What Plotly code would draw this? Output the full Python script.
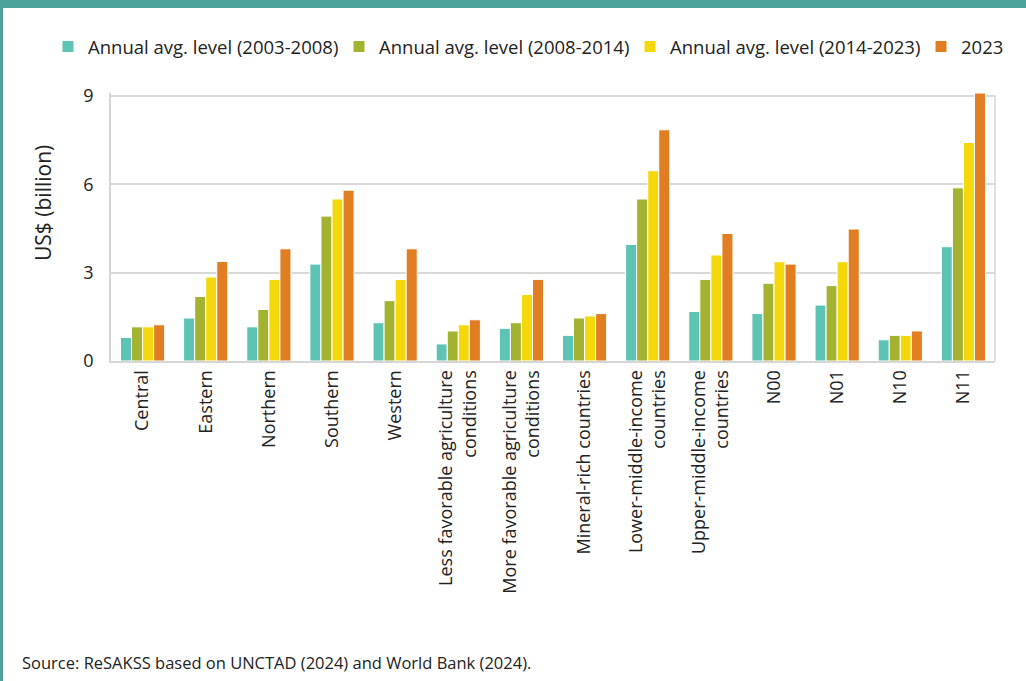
import plotly.graph_objects as go

categories = [
    "Central", "Eastern", "Northern", "Southern", "Western",
    "Less favorable agriculture<br>conditions",
    "More favorable agriculture<br>conditions",
    "Mineral-rich countries",
    "Lower-middle-income<br>countries",
    "Upper-middle-income<br>countries",
    "N00", "N01", "N10", "N11",
]
series_names = [
    "Annual avg. level (2003-2008)",
    "Annual avg. level (2008-2014)",
    "Annual avg. level (2014-2023)",
    "2023",
]
avg_2003_2008 = [0.80, 1.46, 1.16, 3.29, 1.30, 0.58, 1.11, 0.87, 3.96, 1.68, 1.61, 1.90, 0.72, 3.88]
avg_2008_2014 = [1.16, 2.19, 1.75, 4.92, 2.05, 1.02, 1.30, 1.46, 5.50, 2.77, 2.64, 2.56, 0.87, 5.88]
avg_2014_2023 = [1.16, 2.85, 2.77, 5.50, 2.77, 1.23, 2.26, 1.53, 6.46, 3.60, 3.37, 3.37, 0.87, 7.42]
val_2023 = [1.23, 3.38, 3.81, 5.80, 3.81, 1.40, 2.77, 1.61, 7.85, 4.33, 3.29, 4.48, 1.02, 9.10]
colors = ["#5CC3B5", "#A4B232", "#F4D80C", "#E07E21"]
legend_widths = [246, 246, 246, 45]
y_ticks = [0, 3, 6, 9]

fig = go.Figure()
for name, vals, c, lw in zip(series_names, [avg_2003_2008, avg_2008_2014, avg_2014_2023, val_2023],
                             colors, legend_widths):
    fig.add_trace(go.Bar(x=categories, y=vals, name=name, legendwidth=lw,
                         marker=dict(color=c, line=dict(color="white", width=1))))

L, R, T, B = 111, 31, 93, 320
W, H = 1026, 681
pw, ph = W - L - R, H - T - B

def px2x(px):
    return (px - L) / pw

def py2y(py):
    return (H - B - py) / ph

fig.update_layout(
    width=W, height=H,
    margin=dict(l=L, r=R, t=T, b=B, autoexpand=False),
    paper_bgcolor="white", plot_bgcolor="white",
    barmode="group", bargap=0.30, bargroupgap=0.0,
    font=dict(family="Open Sans", color="#222222"),
    legend=dict(orientation="h", x=px2x(48), y=py2y(47), xanchor="left", yanchor="middle",
                font=dict(family="Open Sans", size=18.5, color="#222"),
                itemwidth=30, traceorder="normal"),
    xaxis=dict(tickangle=-90, tickfont=dict(family="Open Sans", size=18, color="#222"),
               showline=True, linecolor="#D6D6D6", linewidth=2, ticks="", showgrid=False),
    yaxis=dict(range=[0, 9.1], tickvals=y_ticks, showgrid=True, gridcolor="#D9D9D9", gridwidth=1.5,
               zeroline=False, tickfont=dict(family="Open Sans", size=18, color="#222"),
               ticks="outside", ticklen=12, tickcolor="rgba(0,0,0,0)",
               showline=True, linecolor="#D6D6D6", linewidth=1.5),
    shapes=[
        dict(type="line", xref="paper", yref="paper", x0=1, x1=1, y0=0, y1=py2y(95.5),
             line=dict(color="#D6D6D6", width=1.5)),
        dict(type="rect", xref="paper", yref="paper", x0=px2x(0), x1=px2x(W), y0=py2y(8), y1=py2y(0),
             fillcolor="#4BA39C", line=dict(width=0), layer="above"),
        dict(type="rect", xref="paper", yref="paper", x0=px2x(0), x1=px2x(3), y0=py2y(H), y1=py2y(0),
             fillcolor="#4BA39C", line=dict(width=0), layer="above"),
    ],
    annotations=[
        dict(text="US$ (billion)", textangle=-90, xref="paper", yref="paper",
             x=px2x(43), y=py2y(203), xanchor="center", yanchor="middle", showarrow=False,
             font=dict(family="Open Sans", size=21, color="#222")),
        dict(text="Source: ReSAKSS based on UNCTAD (2024) and World Bank (2024).",
             xref="paper", yref="paper", x=px2x(20), y=py2y(662), xanchor="left", yanchor="middle",
             showarrow=False, font=dict(family="Open Sans", size=16.5, color="#222")),
    ],
)

fig.write_html("out.html")
